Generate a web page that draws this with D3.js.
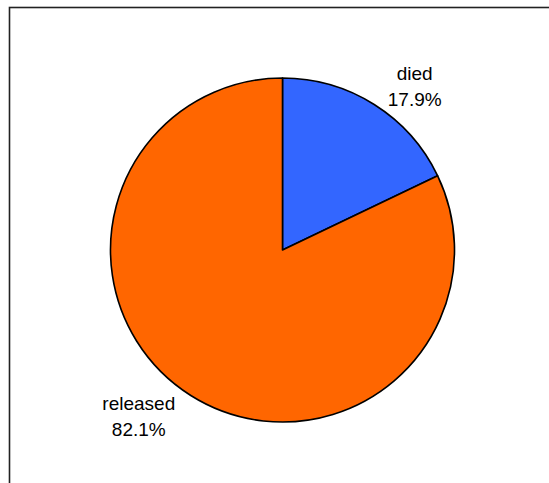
<!DOCTYPE html>
<html>
<head>
<meta charset="utf-8">
<script src="https://cdn.jsdelivr.net/npm/d3@7"></script>
<style>
  html, body { margin: 0; padding: 0; background: #fff; }
  svg { display: block; }
</style>
</head>
<body>
<svg id="chart" width="549" height="483"></svg>
<script>
// Outcome shares (percent)
const categories = ["died", "released"];
const values = [17.9, 82.1];
const colors = ["#3366FF", "#FF6600"];

const W = 549, H = 483;
const cx = 282.5, cy = 250, radius = 172;

const svg = d3.select("#chart");

// Plot-area frame (runs off the right and bottom edges)
svg.append("rect")
  .attr("x", 9.5).attr("y", 7.5)
  .attr("width", 700).attr("height", 700)
  .attr("fill", "none")
  .attr("stroke", "#222")
  .attr("stroke-width", 1.6);

const data = categories.map((c, i) => ({ name: c, value: values[i], color: colors[i] }));

const pie = d3.pie().value(d => d.value).sort(null);
const arcs = pie(data);

const arc = d3.arc().innerRadius(0).outerRadius(radius);

const g = svg.append("g").attr("transform", `translate(${cx},${cy})`);

g.selectAll("path.slice")
  .data(arcs)
  .join("path")
  .attr("class", "slice")
  .attr("d", arc)
  .attr("fill", d => d.data.color)
  .attr("stroke", "#000")
  .attr("stroke-width", 1.6)
  .attr("stroke-linejoin", "round");

// Labels sit outside the rim, pushed slightly clockwise from each slice's mid-angle
const labelRadius = 215;
const angleShift = [0.1, 0.17];
const fmt = d3.format(".1f");

const labels = g.selectAll("text.label")
  .data(arcs)
  .join("text")
  .attr("class", "label")
  .attr("text-anchor", "middle")
  .attr("font-family", "'Liberation Sans', Arial, sans-serif")
  .attr("font-size", 19)
  .attr("fill", "#000")
  .attr("transform", (d, i) => {
    const a = (d.startAngle + d.endAngle) / 2 + angleShift[i];
    return `translate(${labelRadius * Math.sin(a)},${-labelRadius * Math.cos(a)})`;
  });

labels.append("tspan")
  .attr("x", 0).attr("y", 0)
  .text(d => d.data.name);

labels.append("tspan")
  .attr("x", 0).attr("dy", 26)
  .text(d => fmt(d.data.value) + "%");
</script>
</body>
</html>
